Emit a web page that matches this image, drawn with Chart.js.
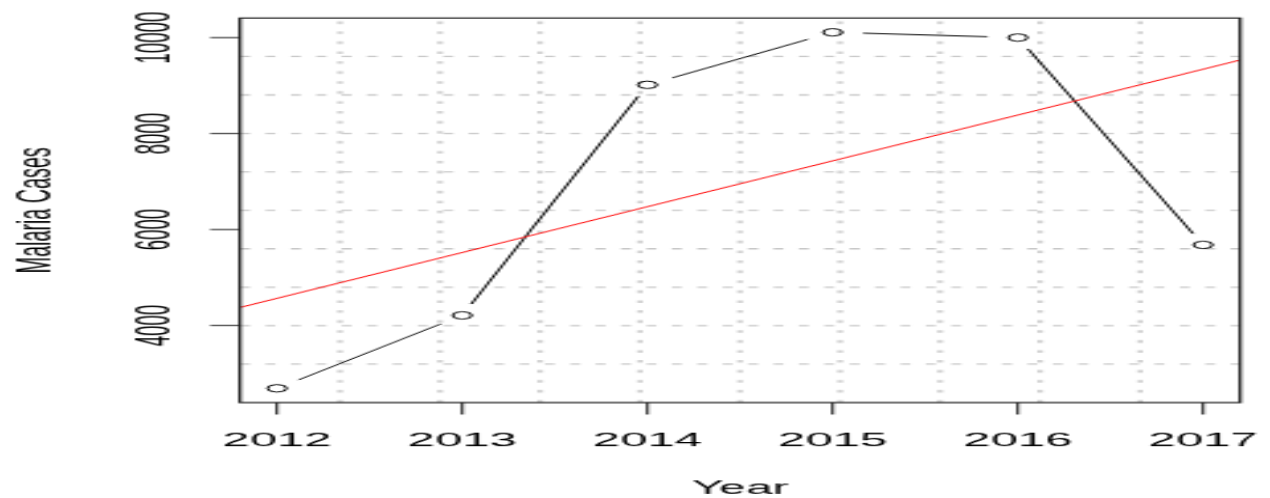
<!DOCTYPE html>
<html>
<head>
<meta charset="utf-8">
<script src="https://cdn.jsdelivr.net/npm/chart.js@4.4.1/dist/chart.umd.min.js"></script>
<style>
html, body { margin: 0; padding: 0; background: #fff; overflow: hidden; }
#c { position: absolute; left: 0; top: 0; }
</style>
</head>
<body>
<canvas id="c" width="480" height="480" style="width:1270px;height:498px;"></canvas>
<script>
// ---- data ----
const years = [2012, 2013, 2014, 2015, 2016, 2017];
const malariaCases = [2690, 4210, 9015, 10110, 10000, 5680];
const trendYears = [2011.8, 2017.2];
const trendCases = [4375, 9532];

const xTickValues = [2012, 2013, 2014, 2015, 2016, 2017];
const xTickLabels = ['2012', '2013', '2014', '2015', '2016', '2017'];
const yTickValues = [4000, 6000, 8000, 10000];
const yTickLabels = ['4000', '6000', '8000', '10000'];
const xTitle = 'Year';
const yTitle = 'Malaria Cases';
const xRange = [2011.8, 2017.2];
const yRange = [2393.2, 10406.8];

const FONT = '"Liberation Sans", Arial, Helvetica, sans-serif';

const rPlot = {
  id: 'rPlot',
  beforeDatasetsDraw(chart) {
    const { ctx, chartArea: a, scales: { x, y } } = chart;
    ctx.save();
    // vertical dotted grid (10 equal divisions)
    ctx.strokeStyle = '#d3d3d3';
    ctx.lineWidth = 2.2;
    ctx.setLineDash([2.6, 7]);
    for (let k = 1; k < 10; k++) {
      const px = x.getPixelForValue(x.min + (x.max - x.min) * k / 10);
      ctx.beginPath(); ctx.moveTo(px, a.bottom); ctx.lineTo(px, a.top); ctx.stroke();
    }
    // horizontal dashed grid
    ctx.strokeStyle = '#c8c8c8';
    ctx.lineWidth = 1.3;
    ctx.setLineDash([3.8, 5.8]);
    for (let k = 1; k < 10; k++) {
      const py = y.getPixelForValue(y.min + (y.max - y.min) * k / 10);
      ctx.beginPath(); ctx.moveTo(a.left, py); ctx.lineTo(a.right, py); ctx.stroke();
    }
    ctx.setLineDash([]);
    // connecting line with gaps around points (type = "b")
    const pts = chart.getDatasetMeta(0).data;
    const g = 11.5;
    ctx.strokeStyle = '#000';
    ctx.lineWidth = 1;
    for (let i = 0; i < pts.length - 1; i++) {
      const p = pts[i], q = pts[i + 1];
      const dx = q.x - p.x, dy = q.y - p.y;
      const len = Math.hypot(dx, dy);
      if (len <= 2 * g) continue;
      const ux = dx / len, uy = dy / len;
      ctx.beginPath();
      ctx.moveTo(p.x + ux * g, p.y + uy * g);
      ctx.lineTo(q.x - ux * g, q.y - uy * g);
      ctx.stroke();
    }
    ctx.restore();
  },
  afterDraw(chart) {
    const { ctx, chartArea: a, scales: { x, y } } = chart;
    ctx.save();
    // box
    ctx.strokeStyle = '#1a1a1a';
    ctx.lineWidth = 1.2;
    ctx.strokeRect(a.left, a.top, a.right - a.left, a.bottom - a.top);
    // x ticks and labels
    ctx.lineWidth = 1;
    ctx.fillStyle = '#000';
    ctx.font = '18.5px ' + FONT;
    ctx.textAlign = 'center';
    ctx.textBaseline = 'alphabetic';
    xTickValues.forEach((v, i) => {
      const px = x.getPixelForValue(v);
      ctx.beginPath(); ctx.moveTo(px, a.bottom); ctx.lineTo(px, a.bottom + 11.5); ctx.stroke();
      ctx.fillText(xTickLabels[i], px, 429.5);
    });
    // y ticks and labels (rotated)
    ctx.font = '18px ' + FONT;
    yTickValues.forEach((v, i) => {
      const py = y.getPixelForValue(v);
      ctx.beginPath(); ctx.moveTo(a.left, py); ctx.lineTo(a.left - 11.3, py); ctx.stroke();
      ctx.save();
      ctx.translate(64, py);
      ctx.rotate(-Math.PI / 2);
      ctx.fillText(yTickLabels[i], 0, 0);
      ctx.restore();
    });
    // axis titles
    ctx.font = '18px ' + FONT;
    ctx.fillText(xTitle, (a.left + a.right) / 2, 476);
    ctx.font = '19px ' + FONT;
    ctx.save();
    ctx.translate(18.5, (a.top + a.bottom) / 2);
    ctx.rotate(-Math.PI / 2);
    ctx.fillText(yTitle, 0, 0);
    ctx.restore();
    ctx.restore();
  }
};

const canvas = document.getElementById('c');
new Chart(canvas, {
  type: 'scatter',
  data: {
    datasets: [
      {
        label: yTitle,
        data: years.map((yr, i) => ({ x: yr, y: malariaCases[i] })),
        showLine: false,
        pointStyle: 'circle',
        pointRadius: 3.6,
        pointHoverRadius: 3.6,
        pointBorderWidth: 1,
        borderColor: '#000',
        pointBorderColor: '#000',
        pointBackgroundColor: 'rgba(0,0,0,0)',
        order: 0
      },
      {
        label: 'Trend',
        data: trendYears.map((yr, i) => ({ x: yr, y: trendCases[i] })),
        showLine: true,
        borderColor: '#ff0000',
        borderWidth: 1,
        pointRadius: 0,
        pointHoverRadius: 0,
        order: 1
      }
    ]
  },
  options: {
    responsive: false,
    devicePixelRatio: 1,
    animation: false,
    events: [],
    layout: { padding: { left: 0, top: 17.4, right: 11.3, bottom: 0 } },
    plugins: { legend: { display: false }, tooltip: { enabled: false } },
    scales: {
      x: {
        type: 'linear', min: xRange[0], max: xRange[1], bounds: 'data',
        ticks: { display: false }, grid: { display: false }, border: { display: false },
        afterFit(s) { s.height = 92; }
      },
      y: {
        type: 'linear', min: yRange[0], max: yRange[1], bounds: 'data',
        ticks: { display: false }, grid: { display: false }, border: { display: false },
        afterFit(s) { s.width = 90.7; }
      }
    }
  },
  plugins: [rPlot]
});
canvas.style.width = '1270px';
canvas.style.height = '498px';
</script>
</body>
</html>
